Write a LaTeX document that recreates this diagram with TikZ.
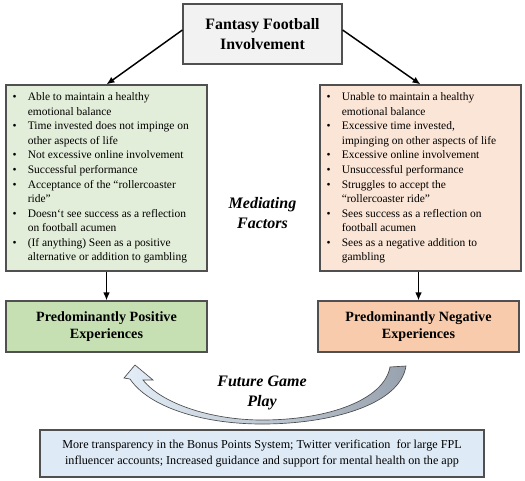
\documentclass[tikz,border=0pt]{standalone}
\usepackage{fontspec}
\setmainfont{Liberation Serif}
\usepackage{tikz}
\usetikzlibrary{shapes, arrows.meta, positioning, calc, backgrounds}

\definecolor{edgegray}{HTML}{505050}
\definecolor{topfill}{HTML}{F2F2F2}
\definecolor{poslist}{HTML}{E3EEDA}
\definecolor{posfill}{HTML}{C6E0B4}
\definecolor{neglist}{HTML}{FBE5D6}
\definecolor{negfill}{HTML}{F8CBAD}
\definecolor{advfill}{HTML}{DEEAF6}
\definecolor{arrowlight}{HTML}{E4EEF8}
\definecolor{arrowdark}{HTML}{97A2AE}

% compact bullet list for the factor boxes
\newcommand{\blabel}[1]{#1\hfil}
\newenvironment{blist}{\begin{minipage}{141pt}\raggedright
  \begin{list}{\textbullet}{\setlength{\leftmargin}{11.5pt}\setlength{\labelwidth}{11.5pt}%
    \setlength{\labelsep}{0pt}\setlength{\itemsep}{0pt}\setlength{\parsep}{0pt}%
    \setlength{\topsep}{0pt}\setlength{\partopsep}{0pt}\let\makelabel\blabel}}%
  {\end{list}\end{minipage}}

\begin{document}
\begin{tikzpicture}[
    x=0.75pt, y=-0.75pt,
    line width=1.1pt,
    every node/.style={inner sep=2pt},
    involve/.style={draw=edgegray, line width=0.9pt, minimum width=119.25pt, minimum height=45pt,
                    align=center, fill=topfill, font=\fontsize{11.9}{15}\selectfont\bfseries},
    poslst/.style={draw=edgegray, line width=0.9pt, minimum width=150.75pt, minimum height=139.5pt,
                   inner xsep=4.9pt, fill=poslist, font=\fontsize{8.6}{10.9}\selectfont},
    neglst/.style={poslst, fill=neglist},
    result/.style={draw=edgegray, line width=0.9pt, minimum width=150.75pt, minimum height=38.25pt,
                   align=center, fill=posfill, font=\fontsize{10.6}{12.8}\selectfont\bfseries},
    advice/.style={draw=edgegray, line width=0.9pt, minimum width=333pt, minimum height=35.25pt,
                   align=center, fill=advfill, font=\fontsize{9.1}{12}\selectfont},
    ann/.style={inner sep=1pt, align=center, font=\fontsize{12}{15}\selectfont\bfseries\itshape},
    arrow/.style={-{Latex[length=6pt, width=5pt]}, line width=1.1pt},
    curvearrow/.style={draw=black!70, line width=0.5pt, left color=arrowlight, right color=arrowdark}
]
\useasboundingbox (0,0) rectangle (525,480);

% ================= Top =================
\node[involve] (ffi) at (262.5,34) {Fantasy Football\\Involvement};

% ================= Mediating factors (two lists) =================
\node[poslst] (posf) at (106.5,178) {\begin{blist}
  \item Able to maintain a healthy\\emotional balance
  \item Time invested does not impinge on\\other aspects of life
  \item Not excessive online involvement
  \item Successful performance
  \item Acceptance of the ``rollercoaster\\ride''
  \item Doesn`t see success as a reflection\\on football acumen
  \item (If anything) Seen as a positive\\alternative or addition to gambling
\end{blist}};

\node[neglst] (negf) at (420.5,178) {\begin{blist}
  \item Unable to maintain a healthy\\emotional balance
  \item Excessive time invested,\\impinging on other aspects of life
  \item Excessive online involvement
  \item Unsuccessful performance
  \item Struggles to accept the\\``rollercoaster ride''
  \item Sees success as a reflection on\\football acumen
  \item Sees as a negative addition to\\gambling
\end{blist}};

\node[ann] (mediate) at (262.5,213) {Mediating\\Factors};

% ================= Experiences =================
\node[result] (posx) at (106.5,326.5) {Predominantly Positive\\Experiences};
\node[result, fill=negfill] (negx) at (418.5,326.5) {Predominantly Negative\\Experiences};

% Arrows
\draw[arrow] ([yshift=3pt]ffi.west) -- (posf.north);
\draw[arrow] ([yshift=3pt]ffi.east) -- (negf.north);
\draw[arrow] (posf.south) -- (posx.north);
\draw[arrow] (negx.north |- negf.south) -- (negx.north);

% ================= Future game play =================
\draw[curvearrow] (406,366) .. controls (400,405) and (330,424) .. (262,424)
    .. controls (200,424) and (148,406) .. (130,379)
    -- (124,378) -- (135,365) -- (153,380) -- (143,380)
    .. controls (162,404) and (212,420) .. (262,420)
    .. controls (328,420) and (384,400) .. (390,367) -- cycle;

\node[ann] (future) at (262,393) {Future Game\\Play};

\node[advice] (recs) at (262,453.5) {More transparency in the Bonus Points System; Twitter verification\ \ for large FPL\\influencer accounts; Increased guidance and support for mental health on the app};

\end{tikzpicture}
\end{document}
